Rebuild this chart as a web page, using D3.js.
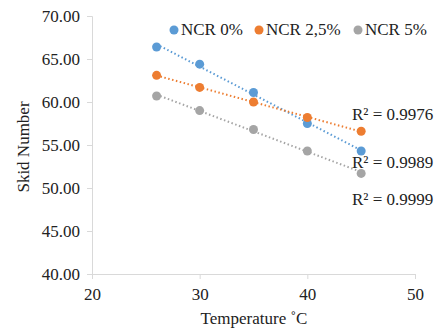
<!DOCTYPE html>
<html>
<head>
<meta charset="utf-8">
<script src="https://cdn.jsdelivr.net/npm/d3@7"></script>
<style>
body { margin: 0; background: #fff; }
svg { display: block; }
svg text { font-family: "Liberation Serif", "Times New Roman", serif; }
</style>
</head>
<body>
<svg id="chart"></svg>
<script>
const temps = [26, 30, 35, 40, 45];
const ncr0 = [66.4, 64.4, 61.1, 57.5, 54.3];
const ncr25 = [63.1, 61.7, 60.0, 58.2, 56.6];
const ncr5 = [60.7, 59.0, 56.8, 54.3, 51.7];
const seriesNames = ["NCR 0%", "NCR 2,5%", "NCR 5%"];
const colors = ["#5b9bd5", "#ed7d31", "#a5a5a5"];
const r2Labels = ["R² = 0.9976", "R² = 0.9989", "R² = 0.9999"];
const yTicks = [40, 45, 50, 55, 60, 65, 70];
const xTicks = [20, 30, 40, 50];

const width = 441, height = 329;
const fs = 17;

const svg = d3.select("#chart")
    .attr("width", width)
    .attr("height", height);

const x = d3.scaleLinear().domain([20, 50]).range([92, 415]);
const y = d3.scaleLinear().domain([40, 70]).range([274, 16]);

// axes
const yAxis = svg.append("g")
    .attr("transform", "translate(92,0)")
    .call(d3.axisLeft(y).tickValues(yTicks).tickFormat(d3.format(".2f")).tickSize(5).tickPadding(7));
const xAxis = svg.append("g")
    .attr("transform", "translate(0,274)")
    .call(d3.axisBottom(x).tickValues(xTicks).tickSize(5).tickPadding(9));

[yAxis, xAxis].forEach(a => {
    a.attr("font-family", null).attr("font-size", null);
    a.selectAll("path, line").attr("stroke", "#d9d9d9");
    a.selectAll("text")
        .attr("fill", "#222")
        .attr("font-size", fs);
});

const series = [ncr0, ncr25, ncr5];

// linear trendlines
series.forEach((vals, i) => {
    const n = temps.length;
    const mx = d3.mean(temps), my = d3.mean(vals);
    let sxy = 0, sxx = 0;
    for (let k = 0; k < n; k++) {
        sxy += (temps[k] - mx) * (vals[k] - my);
        sxx += (temps[k] - mx) * (temps[k] - mx);
    }
    const slope = sxy / sxx;
    const icpt = my - slope * mx;
    const x0 = d3.min(temps), x1 = d3.max(temps);
    svg.append("line")
        .attr("x1", x(x0)).attr("y1", y(icpt + slope * x0))
        .attr("x2", x(x1)).attr("y2", y(icpt + slope * x1))
        .attr("stroke", colors[i])
        .attr("stroke-width", 2)
        .attr("stroke-dasharray", "1.5,2.5");
});

// points
series.forEach((vals, i) => {
    svg.append("g").selectAll("circle")
        .data(vals)
        .enter().append("circle")
        .attr("cx", (d, k) => x(temps[k]))
        .attr("cy", d => y(d))
        .attr("r", 4.5)
        .attr("fill", colors[i]);
});

// legend
const legendX = [174, 259, 358];
seriesNames.forEach((name, i) => {
    svg.append("circle")
        .attr("cx", legendX[i]).attr("cy", 30).attr("r", 4.5)
        .attr("fill", colors[i]);
    svg.append("text")
        .attr("x", legendX[i] + 7).attr("y", 35)
        .attr("font-size", fs)
        .attr("fill", "#222")
        .text(name);
});

// R² labels
const r2Y = [120, 168, 205];
r2Labels.forEach((t, i) => {
    svg.append("text")
        .attr("x", 352).attr("y", r2Y[i])
        .attr("font-size", fs)
        .attr("fill", "#222")
        .text(t);
});

// axis titles
svg.append("text")
    .attr("transform", "translate(29,147) rotate(-90)")
    .attr("text-anchor", "middle")
    .attr("font-size", fs)
    .attr("fill", "#222")
    .text("Skid Number");
svg.append("text")
    .attr("x", 254).attr("y", 324)
    .attr("text-anchor", "middle")
    .attr("font-size", fs)
    .attr("fill", "#222")
    .text("Temperature ˚C");
</script>
</body>
</html>
